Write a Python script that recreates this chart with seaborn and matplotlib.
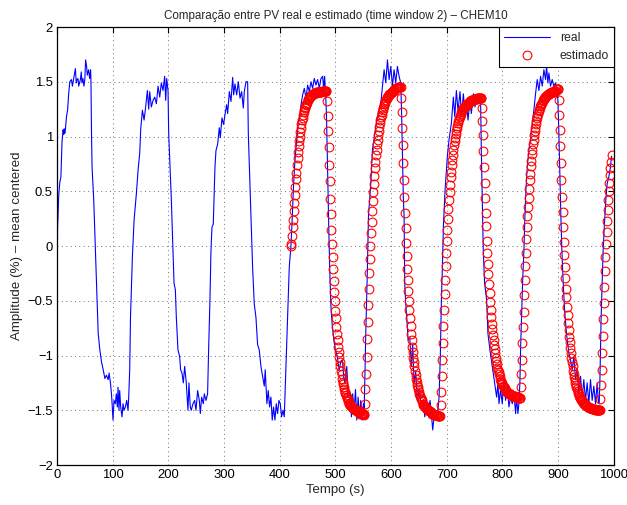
import numpy as np
import seaborn as sns
import matplotlib
matplotlib.use("Agg")
import matplotlib.pyplot as plt
from matplotlib.ticker import MultipleLocator, FuncFormatter

real_t = [0, 1, 3, 5, 7, 9, 10, 11, 12, 13, 14, 15, 17, 19, 21, 23, 26, 27.7, 29, 30.7,
          33, 34.7, 36, 37.7, 39, 40.6, 42, 43.6, 44.8, 46.6, 48.4, 50, 51.4, 53.2, 54.4, 56.8, 58.6, 60.4, 61,
          62, 63, 66, 69, 71, 74, 77, 80, 83, 86, 88.8, 91.8, 93.6, 96, 97.8, 99, 100.6, 102.4, 104.8,
          106.6, 108.4, 109.6, 111.4, 112.6, 114.4, 116.8, 118.6, 120.4, 122.8, 125.2, 127.6, 128.8,
          130.6, 132, 135.4, 138.5, 142.6, 145.6, 148.6, 150.4, 153.4, 156.4, 158.8, 162.3, 164.7,
          166.5, 169.5, 172.5, 175.5, 178.5, 181.5, 184.5, 187.4, 190.4, 193.4, 195.2, 197, 199.4,
          200.6, 205.4, 210.2, 212.6, 214.3, 217.3, 220.3, 222, 224.5, 226.9, 229.3, 232.2, 235.2,
          237, 239.4, 241.2, 244.2, 247.2, 249.6, 252.6, 255.6, 257.4, 259.8, 262.8, 264.6, 267.6, 270.5,
          272.3, 274.7, 276.5, 278.3, 280.7, 283.7, 285.5, 288.5, 291.5, 293.3, 296.3, 299.3, 301.7,
          304.7, 306.5, 309.5, 312.5, 315.5, 317.3, 319.7, 322.7, 325.7, 328.7, 331.6, 334.6, 336.4,
          339.4, 342.4, 343.6, 348.3, 351.3, 354.3, 357.3, 360.3, 363.3, 366.3, 369.3, 372.3, 374,
          377, 379.4, 381.8, 384.2, 386.6, 389, 391.4, 393.8, 396.2, 398.6, 401, 403.4, 405.8, 408.2,
          411.2, 414.2, 417.2, 420.2, 422.6, 425, 427.4, 430.4, 433.4, 435.8, 438.2, 441.2, 444.2,
          447.2, 450.2, 453.2, 456.1, 459.1, 462.1, 465.1, 468.1, 471.1, 474.1, 477.1, 478.9, 480.7,
          482.5, 484, 486, 488, 490, 492, 494, 497, 500, 503, 506.8, 510, 512.8, 515, 517, 520.5,
          522.9, 525.5, 528.9, 531, 533.7, 536.1, 538.5, 540.8, 543.2, 545.6, 548, 550.4, 551.6,
          554.6, 557.6, 559.4, 563.6, 566.6, 570.8, 575.6, 578.5, 581.5, 584.5, 587.5, 590.5, 593.5,
          596.5, 599.5, 602.5, 605.4, 608.4, 611.4, 614.4, 617.4, 619, 620.5, 622, 623.4, 624.6, 626,
          628.2, 630.6, 633.5, 636.5, 638.8, 641.3, 644.3, 647.3, 650.3, 654.5, 658, 660.5, 664,
          667.6, 670, 672.4, 674.8, 677.2, 680.2, 683.2, 686.2, 688.5, 690.4, 692.2, 694, 697, 701.1,
          704.1, 708.3, 711.9, 714.5, 717.3, 720.3, 723.8, 726.8, 729.8, 732.8, 735.8, 738.2, 741.8,
          744.2, 747.8, 750.8, 753.7, 757.9, 760.9, 762.1, 763.9, 765.6, 768, 771.6, 774, 777.6,
          781.8, 786, 789.6, 792, 793.8, 796.7, 799.7, 802.7, 805.7, 808.7, 811.7, 814.7, 817.7,
          820.7, 823.7, 825.5, 827.8, 829.6, 831.4, 832.6, 834.4, 836.2, 838.6, 840.4, 842.2, 844.6,
          847.6, 850.6, 853.6, 856.5, 859.5, 862.5, 865.5, 868.5, 871.5, 874.5, 877.5, 879.3, 881.7,
          883.5, 886.4, 889.4, 892.4, 895.4, 898.4, 899.6, 901.4, 903.2, 905, 906.8, 909.2, 911.6,
          915.1, 919.3, 922.3, 925.3, 928.3, 931.3, 934.3, 937.3, 940.3, 943.3, 946.2, 949.2, 952.2,
          955.2, 958.2, 961.2, 964.2, 967.2, 970.2, 972, 973.8, 975, 976.2, 977.3, 979.1, 980.9,
          983.3, 985.7, 988.1, 991.1, 994, 996]
real_v = [-0.45, 0.15, 0.45, 0.58, 0.63, 0.95, 1.00, 1.06, 1.02, 1.07, 1.03, 1.06, 1.18, 1.24, 1.39, 1.50, 1.52, 1.46, 1.50, 1.55,
          1.62, 1.49, 1.52, 1.53, 1.46, 1.49, 1.52, 1.59, 1.49, 1.53, 1.46, 1.52, 1.70, 1.64, 1.56, 1.61, 1.53, 1.61, 1.50,
          1.03, 0.72, 0.42, -0.04, -0.37, -0.80, -0.95, -1.06, -1.13, -1.21, -1.18, -1.22, -1.16, -1.25, -1.35, -1.44, -1.59, -1.41, -1.44,
          -1.35, -1.47, -1.29, -1.50, -1.32, -1.47, -1.56, -1.44, -1.50, -1.47, -1.41, -1.50, -1.38,
          -1.13, -0.65, -0.10, 0.24, 0.48, 0.69, 0.85, 1.07, 1.24, 1.15, 1.25, 1.42, 1.25,
          1.41, 1.27, 1.33, 1.36, 1.30, 1.46, 1.36, 1.49, 1.42, 1.55, 1.33, 1.53, 1.42,
          1.03, 0.42, -0.34, -0.40, -0.65, -0.95, -1.01, -1.13, -1.16, -1.25, -1.10, -1.25, -1.50,
          -1.25, -1.47, -1.50, -1.44, -1.41, -1.50, -1.32, -1.41, -1.53, -1.38, -1.44, -1.35, -1.41, -1.35,
          -0.95, -0.50, -0.05, 0.17, 0.20, 0.72, 0.87, 0.93, 1.08, 0.99, 1.17, 1.11, 1.20,
          1.29, 1.21, 1.41, 1.32, 1.54, 1.38, 1.48, 1.38, 1.50, 1.35, 1.41, 1.26, 1.41,
          1.50, 1.50, 1.03, 0.27, -0.19, -0.53, -0.65, -0.90, -0.95, -1.10, -1.19, -1.28, -1.13,
          -1.44, -1.32, -1.47, -1.38, -1.59, -1.47, -1.59, -1.44, -1.53, -1.41, -1.44, -1.56, -1.50, -1.56,
          -1.10, -0.65, -0.19, 0.00, 0.27, 0.57, 0.78, 0.96, 1.14, 1.17, 1.29, 1.38, 1.44,
          1.35, 1.47, 1.41, 1.50, 1.44, 1.53, 1.47, 1.52, 1.44, 1.53, 1.55, 1.44, 1.55,
          1.38, 1.20, 0.70, 0.20, -0.25, -0.55, -0.70, -0.85, -0.95, -1.00, -1.13, -1.05, -1.04, -1.20, -1.25, -1.10,
          -1.38, -1.32, -1.56, -1.35, -1.50, -1.31, -1.59, -1.38, -1.56, -1.41, -1.59, -1.44, -1.53,
          -0.80, -0.19, 0.27, 0.57, 0.88, 1.03, 1.18, 1.25, 1.30, 1.45, 1.61, 1.49, 1.70,
          1.52, 1.64, 1.46, 1.61, 1.49, 1.64, 1.55, 1.49, 1.20, 0.80, 0.45, 0.27, -0.34, -0.50,
          -0.65, -0.86, -0.83, -1.10, -0.90, -1.25, -1.15, -1.41, -1.31, -1.47, -1.41, -1.56, -1.44,
          -1.50, -1.41, -1.53, -1.68, -1.56, -1.50, -1.54, -1.38, -1.00, -0.49, -0.19, 0.18, 0.51, 0.82,
          0.97, 1.12, 1.36, 1.18, 1.42, 1.23, 1.41, 1.18, 1.39, 1.23, 1.30, 1.15, 1.33,
          1.21, 1.39, 1.27, 1.36, 1.33, 1.30, 0.88, 0.42, -0.04, -0.34, -0.49, -0.80, -0.95,
          -1.10, -1.25, -1.38, -1.25, -1.44, -1.31, -1.44, -1.22, -1.41, -1.28, -1.47, -1.38, -1.44,
          -1.35, -1.53, -1.38, -1.53, -1.44, -1.25, -0.95, -0.65, -0.34, -0.04, 0.27, 0.51, 0.72,
          0.88, 0.97, 1.12, 1.24, 1.39, 1.52, 1.42, 1.55, 1.46, 1.61, 1.52, 1.64, 1.49,
          1.58, 1.46, 1.52, 1.46, 1.49, 1.39, 1.33, 1.03, 0.63, 0.27, -0.04, -0.34, -0.58,
          -0.80, -0.98, -1.04, -1.13, -1.01, -1.22, -1.13, -1.35, -1.19, -1.38, -1.22, -1.41, -1.25,
          -1.44, -1.22, -1.41, -1.28, -1.44, -1.25, -1.41, -1.44, -1.25, -0.95, -0.65, -0.34, -0.04,
          0.21, 0.42, 0.57, 0.63, 0.72, 0.82]

# model estimate ("estimado"), one value per second, in rise/fall pieces
est_starts = [420, 485, 553, 618, 689, 763, 833, 901, 976]
est_r1 = [0.00, 0.02, 0.09, 0.17, 0.24, 0.32, 0.39, 0.47, 0.54, 0.61, 0.67, 0.74, 0.80, 0.86, 0.91,
          0.96, 1.00, 1.04, 1.08, 1.11, 1.15, 1.17, 1.20, 1.22, 1.24, 1.26, 1.27, 1.29, 1.30, 1.31,
          1.33, 1.34, 1.34, 1.35, 1.36, 1.37, 1.37, 1.38, 1.38, 1.39, 1.39, 1.39, 1.40, 1.40, 1.40,
          1.40, 1.41, 1.41, 1.41, 1.41, 1.41, 1.41, 1.41, 1.41, 1.41, 1.41, 1.42, 1.42, 1.42, 1.42,
          1.42, 1.42, 1.42, 1.42, 1.42]
est_f1 = [1.32, 1.19, 1.05, 0.90, 0.74, 0.59, 0.43, 0.29, 0.15, 0.02, -0.10, -0.21, -0.32, -0.42,
          -0.50, -0.59, -0.66, -0.74, -0.80, -0.86, -0.92, -0.97, -1.01, -1.06, -1.10, -1.14, -1.17,
          -1.21, -1.24, -1.26, -1.29, -1.31, -1.33, -1.34, -1.36, -1.38, -1.39, -1.40, -1.42, -1.43,
          -1.44, -1.45, -1.45, -1.46, -1.47, -1.47, -1.48, -1.48, -1.49, -1.49, -1.50, -1.50, -1.50,
          -1.51, -1.51, -1.51, -1.52, -1.52, -1.52, -1.52, -1.53, -1.53, -1.53, -1.53, -1.53, -1.53,
          -1.53, -1.54]
est_r2 = [-1.44, -1.31, -1.17, -1.01, -0.85, -0.69, -0.54, -0.39, -0.25, -0.12, 0.00, 0.12, 0.22,
          0.32, 0.41, 0.49, 0.57, 0.64, 0.71, 0.77, 0.83, 0.88, 0.93, 0.97, 1.01, 1.05, 1.09, 1.12,
          1.15, 1.18, 1.20, 1.22, 1.24, 1.26, 1.28, 1.30, 1.31, 1.32, 1.33, 1.35, 1.36, 1.36, 1.37,
          1.38, 1.39, 1.39, 1.40, 1.40, 1.41, 1.41, 1.42, 1.42, 1.42, 1.43, 1.43, 1.44, 1.44, 1.44,
          1.44, 1.44, 1.45, 1.45, 1.45, 1.45, 1.45]
est_f2 = [1.35, 1.22, 1.08, 0.92, 0.76, 0.60, 0.45, 0.30, 0.16, 0.03, -0.09, -0.21, -0.31, -0.41,
          -0.50, -0.58, -0.66, -0.73, -0.80, -0.86, -0.92, -0.97, -1.02, -1.06, -1.10, -1.14, -1.18,
          -1.21, -1.24, -1.27, -1.29, -1.31, -1.33, -1.35, -1.37, -1.39, -1.40, -1.41, -1.42, -1.44,
          -1.45, -1.45, -1.46, -1.47, -1.48, -1.48, -1.49, -1.49, -1.50, -1.50, -1.51, -1.51, -1.51,
          -1.52, -1.52, -1.53, -1.53, -1.53, -1.53, -1.53, -1.54, -1.54, -1.54, -1.54, -1.54, -1.54,
          -1.55, -1.55, -1.55, -1.55, -1.55]
est_r3 = [-1.45, -1.33, -1.19, -1.04, -0.89, -0.73, -0.58, -0.44, -0.31, -0.18, -0.06, 0.05, 0.15,
          0.25, 0.34, 0.42, 0.49, 0.56, 0.63, 0.68, 0.74, 0.79, 0.83, 0.88, 0.92, 0.96, 0.99, 1.02,
          1.05, 1.08, 1.10, 1.12, 1.14, 1.16, 1.18, 1.19, 1.21, 1.22, 1.23, 1.24, 1.25, 1.26, 1.27,
          1.27, 1.28, 1.28, 1.29, 1.29, 1.30, 1.30, 1.31, 1.31, 1.32, 1.32, 1.32, 1.33, 1.33, 1.33,
          1.33, 1.33, 1.34, 1.34, 1.34, 1.34, 1.34, 1.34, 1.35, 1.35, 1.35, 1.35, 1.35, 1.35, 1.35,
          1.35]
est_f3 = [1.26, 1.14, 1.01, 0.87, 0.72, 0.58, 0.44, 0.30, 0.18, 0.05, -0.06, -0.16, -0.26, -0.35,
          -0.43, -0.51, -0.58, -0.65, -0.71, -0.76, -0.81, -0.86, -0.90, -0.94, -0.98, -1.02, -1.05,
          -1.08, -1.11, -1.13, -1.15, -1.17, -1.19, -1.21, -1.23, -1.24, -1.25, -1.26, -1.28, -1.29,
          -1.29, -1.30, -1.31, -1.32, -1.32, -1.33, -1.33, -1.34, -1.34, -1.35, -1.35, -1.35, -1.36,
          -1.36, -1.36, -1.37, -1.37, -1.37, -1.37, -1.37, -1.38, -1.38, -1.38, -1.38, -1.38, -1.38,
          -1.39, -1.39, -1.39, -1.39]
est_r4 = [-1.29, -1.17, -1.04, -0.89, -0.74, -0.60, -0.45, -0.31, -0.18, -0.06, 0.06, 0.17, 0.27,
          0.36, 0.44, 0.52, 0.60, 0.66, 0.73, 0.78, 0.84, 0.88, 0.93, 0.97, 1.01, 1.05, 1.08, 1.11,
          1.14, 1.17, 1.19, 1.21, 1.23, 1.24, 1.26, 1.28, 1.29, 1.30, 1.31, 1.32, 1.33, 1.34, 1.35,
          1.35, 1.36, 1.37, 1.37, 1.38, 1.38, 1.39, 1.39, 1.39, 1.40, 1.40, 1.40, 1.41, 1.41, 1.41,
          1.41, 1.41, 1.42, 1.42, 1.42, 1.42, 1.43, 1.43, 1.43, 1.43]
est_f4 = [1.33, 1.20, 1.06, 0.91, 0.76, 0.60, 0.45, 0.31, 0.17, 0.04, -0.08, -0.19, -0.29, -0.39,
          -0.47, -0.56, -0.63, -0.70, -0.77, -0.83, -0.88, -0.93, -0.98, -1.02, -1.06, -1.10, -1.14,
          -1.17, -1.20, -1.22, -1.25, -1.27, -1.29, -1.31, -1.32, -1.34, -1.35, -1.37, -1.38, -1.39,
          -1.40, -1.41, -1.42, -1.42, -1.43, -1.43, -1.44, -1.44, -1.45, -1.45, -1.46, -1.46, -1.47,
          -1.47, -1.47, -1.48, -1.48, -1.48, -1.48, -1.48, -1.49, -1.49, -1.49, -1.49, -1.49, -1.49,
          -1.50, -1.50, -1.50, -1.50, -1.50, -1.50, -1.50, -1.50, -1.50]
est_r5 = [-1.40, -1.27, -1.13, -0.98, -0.82, -0.67, -0.52, -0.37, -0.23, -0.10, 0.02, 0.13, 0.23,
          0.33, 0.42, 0.50, 0.58, 0.65, 0.71, 0.77, 0.83]

est_pieces = [est_r1, est_f1, est_r2, est_f2, est_r3, est_f3, est_r4, est_f4, est_r5]
est_t = np.concatenate([s + np.arange(len(p)) for s, p in zip(est_starts, est_pieces)])
est_v = np.concatenate(est_pieces)

sns.set_style("white")
plt.rcParams["font.family"] = ["Liberation Sans", "DejaVu Sans"]

fig = plt.figure(figsize=(6.27, 5.05), dpi=100)
ax = fig.add_axes([0.0909, 0.0792, 0.888, 0.8673])

sns.lineplot(x=real_t, y=real_v, color="blue", lw=0.8, estimator=None, sort=False,
             label="real", ax=ax)
sns.lineplot(x=est_t, y=est_v, color="red", marker="o", ls="none", mfc="none", mec="red",
             mew=0.8, ms=6.3, estimator=None, sort=False, label="estimado", ax=ax)

ax.set_xlim(0, 1000)
ax.set_ylim(-2, 2)
ax.xaxis.set_major_locator(MultipleLocator(100))
ax.yaxis.set_major_locator(MultipleLocator(0.5))
ax.yaxis.set_major_formatter(FuncFormatter(lambda v, p: "{:g}".format(v).replace("-", "\u2212")))
ax.tick_params(direction="in", top=True, right=True, length=4, width=0.8, labelsize=9.4,
               colors="black", pad=3)
for s in ax.spines.values():
    s.set_color("black")
    s.set_linewidth(0.9)
ax.grid(True, linestyle=(0, (1, 3.5)), color="0.45", linewidth=0.7)

ax.set_title("Comparação entre PV real e estimado (time window 2) \u2013 CHEM10", fontsize=8.4,
             pad=6)
ax.set_xlabel("Tempo (s)", fontsize=9.5, labelpad=2)
ax.set_ylabel("Amplitude (%) \u2013 mean centered", fontsize=9.6, labelpad=3)

leg = ax.legend(loc="upper right", fancybox=False, edgecolor="black", framealpha=1,
                borderaxespad=0, handlelength=3.8, fontsize=8.7)
leg.get_frame().set_linewidth(0.8)

fig.savefig("out.png", dpi=100)
